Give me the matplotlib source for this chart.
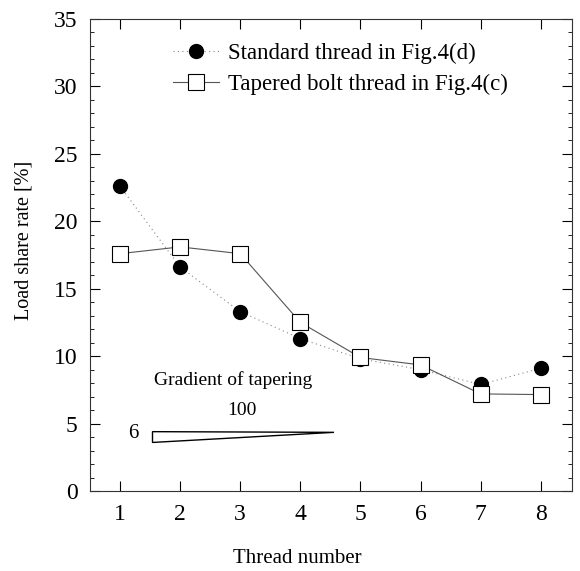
import matplotlib.pyplot as plt
from matplotlib.patches import Polygon
from matplotlib.ticker import MultipleLocator

thread = [1, 2, 3, 4, 5, 6, 7, 8]
standard = [22.6, 16.6, 13.3, 11.3, 9.8, 9.0, 7.9, 9.1]
tapered = [17.6, 18.1, 17.6, 12.5, 9.9, 9.35, 7.2, 7.15]

plt.rcParams["font.family"] = ["Liberation Serif", "DejaVu Serif"]
plt.rcParams["font.size"] = 13

fig = plt.figure(figsize=(5.8, 5.71), dpi=100)
ax = fig.add_axes([90 / 580, 80 / 571, 482 / 580, 472 / 571])

ax.plot(thread, standard, color="#888888", linestyle=(0, (1, 3)), linewidth=0.8,
        marker="o", markersize=10, markerfacecolor="black", markeredgecolor="black",
        label="Standard thread in Fig.4(d)")
ax.plot(thread, tapered, color="#555555", linestyle="-", linewidth=0.8,
        marker="s", markersize=11, markerfacecolor="white", markeredgecolor="black",
        markeredgewidth=0.8, label="Tapered bolt thread in Fig.4(c)")

ax.set_xlim(0.5, 8.52)
ax.set_ylim(0, 35)
ax.xaxis.set_major_locator(MultipleLocator(1))
ax.yaxis.set_major_locator(MultipleLocator(5))
ax.yaxis.set_minor_locator(MultipleLocator(1))
ax.tick_params(which="both", direction="in", top=True, right=True, labelsize=17)
ax.tick_params(which="major", length=7, width=0.8)
ax.tick_params(which="minor", length=3, width=0.6)
ax.tick_params(axis="x", pad=9)
ax.tick_params(axis="y", pad=9)
for s in ax.spines.values():
    s.set_linewidth(0.8)
    s.set_color("#333333")

ax.set_xlabel("Thread number", fontsize=15)
ax.set_ylabel("Load share rate [%]", fontsize=14.5)
ax.xaxis.set_label_coords(0.43, -0.122)
ax.yaxis.set_label_coords(-0.118, 0.532)

leg = ax.legend(loc="upper left", bbox_to_anchor=(0.13, 0.994), frameon=False,
                fontsize=16.5, handlelength=2.0, handletextpad=0.4, labelspacing=0.45)

# taper gradient sketch
tri = Polygon([(1.54, 4.4), (1.54, 3.6), (4.56, 4.35)], closed=True,
              facecolor="white", edgecolor="black", linewidth=1.0)
ax.add_patch(tri)
ax.text(1.57, 8.2, "Gradient of tapering", fontsize=14, va="center", ha="left",
        fontstretch="condensed")
ax.text(3.03, 6.0, "100", fontsize=14, va="center", ha="center")
ax.text(1.22, 4.3, "6", fontsize=15, va="center", ha="center")

fig.savefig("out.png", dpi=100)
